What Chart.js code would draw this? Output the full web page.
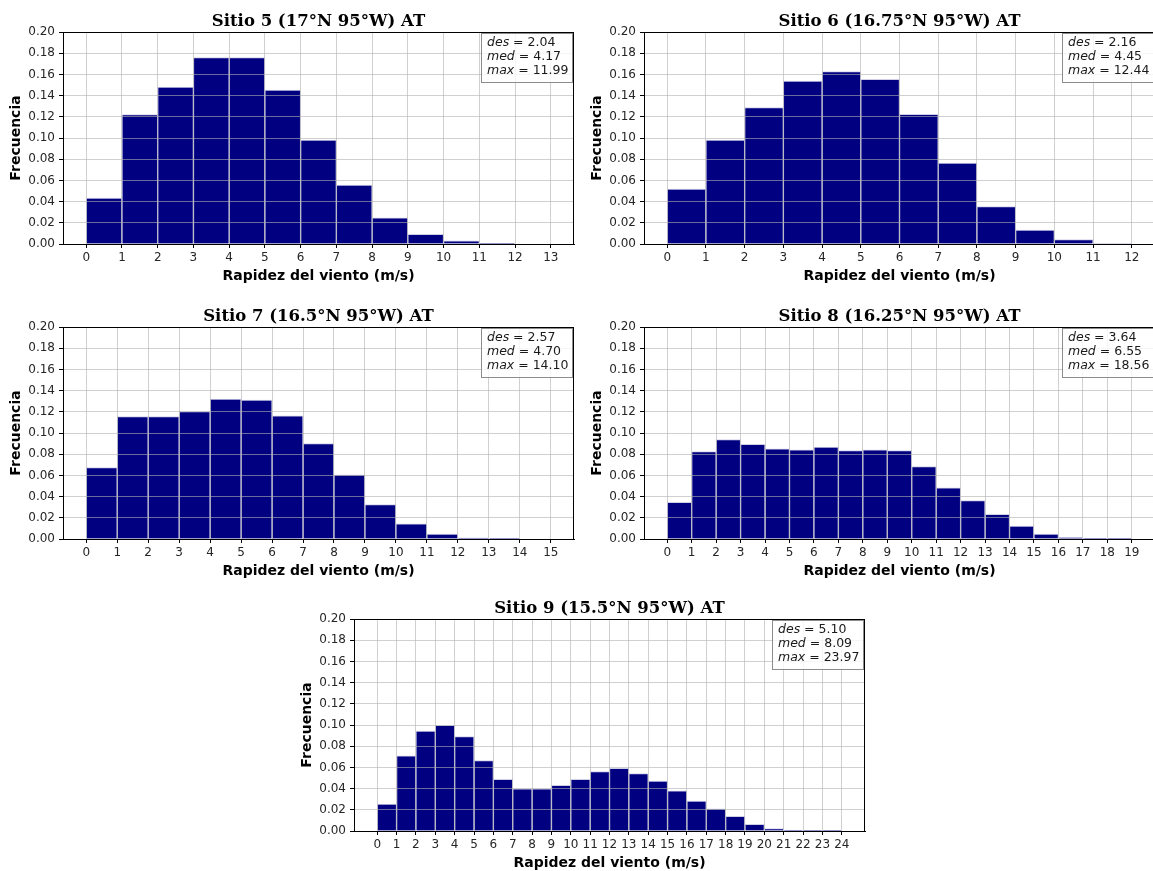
<!DOCTYPE html>
<html lang="es">
<head>
<meta charset="utf-8">
<title>Rapidez del viento - Sitios 5 a 9</title>
<script src="https://cdn.jsdelivr.net/npm/chart.js@4"></script>
<style>
  html, body { margin: 0; padding: 0; width: 1153px; height: 871px; overflow: hidden; background: #ffffff; }
  canvas { position: absolute; }
</style>
</head>
<body>
<canvas id="sitio5" width="600" height="290" style="left:-1px; top:0px;"></canvas>
<canvas id="sitio6" width="600" height="290" style="left:580px; top:0px;"></canvas>
<canvas id="sitio7" width="600" height="290" style="left:-1px; top:295px;"></canvas>
<canvas id="sitio8" width="600" height="290" style="left:580px; top:295px;"></canvas>
<canvas id="sitio9" width="600" height="290" style="left:290px; top:587px;"></canvas>
<script>
// Frecuencia relativa por intervalo de 1 m/s (el intervalo i va de i a i+1 m/s)
const freqSitio5 = [0.0434, 0.1220, 0.1480, 0.1758, 0.1758, 0.1453, 0.0981, 0.0557, 0.0248, 0.0091, 0.0031, 0.0002];
const freqSitio6 = [0.0519, 0.0981, 0.1286, 0.1538, 0.1626, 0.1553, 0.1223, 0.0764, 0.0352, 0.0132, 0.0041, 0.0005];
const freqSitio7 = [0.0674, 0.1156, 0.1156, 0.1203, 0.1320, 0.1310, 0.1162, 0.0901, 0.0605, 0.0324, 0.0142, 0.0047, 0.0010, 0.0002];
const freqSitio8 = [0.0346, 0.0825, 0.0939, 0.0894, 0.0850, 0.0841, 0.0866, 0.0835, 0.0841, 0.0835, 0.0683, 0.0482, 0.0362, 0.0233, 0.0123, 0.0047, 0.0013, 0.0003, 0.0001];
const freqSitio9 = [0.0255, 0.0709, 0.0942, 0.0998, 0.0891, 0.0665, 0.0488, 0.0397, 0.0397, 0.0431, 0.0488, 0.0561, 0.0592, 0.0542, 0.0472, 0.0378, 0.0283, 0.0208, 0.0139, 0.0063, 0.0022, 0.0009, 0.0003, 0.0001];

// Marcas de los ejes
const yTicks = [0.00, 0.02, 0.04, 0.06, 0.08, 0.10, 0.12, 0.14, 0.16, 0.18, 0.20];
const xTicksSitio5 = [0, 1, 2, 3, 4, 5, 6, 7, 8, 9, 10, 11, 12, 13];
const xTicksSitio6 = [0, 1, 2, 3, 4, 5, 6, 7, 8, 9, 10, 11, 12];
const xTicksSitio7 = [0, 1, 2, 3, 4, 5, 6, 7, 8, 9, 10, 11, 12, 13, 14, 15];
const xTicksSitio8 = [0, 1, 2, 3, 4, 5, 6, 7, 8, 9, 10, 11, 12, 13, 14, 15, 16, 17, 18, 19];
const xTicksSitio9 = [0, 1, 2, 3, 4, 5, 6, 7, 8, 9, 10, 11, 12, 13, 14, 15, 16, 17, 18, 19, 20, 21, 22, 23, 24];

// Estadísticos: desviación estándar, media y máximo (m/s)
const statNames = ['des', 'med', 'max'];
const statsSitio5 = ['2.04', '4.17', '11.99'];
const statsSitio6 = ['2.16', '4.45', '12.44'];
const statsSitio7 = ['2.57', '4.70', '14.10'];
const statsSitio8 = ['3.64', '6.55', '18.56'];
const statsSitio9 = ['5.10', '8.09', '23.97'];

const titles = [
  'Sitio 5 (17°N 95°W) AT',
  'Sitio 6 (16.75°N 95°W) AT',
  'Sitio 7 (16.5°N 95°W) AT',
  'Sitio 8 (16.25°N 95°W) AT',
  'Sitio 9 (15.5°N 95°W) AT'
];

const xLabel = 'Rapidez del viento (m/s)';
const yLabel = 'Frecuencia';

// Marco completo, título de cada panel y recuadro de estadísticos
const panelDecor = {
  id: 'panelDecor',
  afterDraw(chart, args, opts) {
    const ctx = chart.ctx;
    const a = chart.chartArea;
    ctx.save();
    // ejes superior y derecho
    ctx.strokeStyle = '#000000';
    ctx.lineWidth = 1;
    ctx.beginPath();
    ctx.moveTo(Math.round(a.left), Math.round(a.top) + 0.5);
    ctx.lineTo(Math.round(a.right), Math.round(a.top) + 0.5);
    ctx.moveTo(Math.round(a.right) - 0.5, Math.round(a.top));
    ctx.lineTo(Math.round(a.right) - 0.5, Math.round(a.bottom));
    ctx.stroke();

    // título
    ctx.fillStyle = '#000000';
    ctx.font = 'bold 16.5px "DejaVu Serif"';
    ctx.textAlign = 'center';
    ctx.textBaseline = 'alphabetic';
    ctx.fillText(opts.title, (a.left + a.right) / 2, 25.5);

    // recuadro de estadísticos
    const bw = 91, bh = 49;
    const bx = Math.round(a.right) - 2 - bw;
    const by = Math.round(a.top) + 1;
    ctx.fillStyle = 'rgba(255,255,255,0.8)';
    ctx.fillRect(bx, by, bw, bh);
    ctx.strokeStyle = '#8c8c8c';
    ctx.strokeRect(bx + 0.5, by + 0.5, bw, bh);
    ctx.textAlign = 'left';
    ctx.textBaseline = 'middle';
    ctx.fillStyle = '#1a1a1a';
    opts.names.forEach((name, i) => {
      const y = a.top + 10.5 + 14.2 * i;
      let x = bx + 6;
      ctx.font = 'italic 12.5px "DejaVu Sans"';
      ctx.fillText(name, x, y);
      x += ctx.measureText(name).width;
      ctx.font = '12.5px "DejaVu Sans"';
      ctx.fillText(' = ' + opts.values[i], x, y);
    });
    ctx.restore();
  }
};

const gridColor = 'rgba(176,176,176,0.6)';

function drawPanel(id, title, freq, xTicks, stats) {
  const last = xTicks[xTicks.length - 1];
  const margin = 0.05 * last;
  const points = freq.map((f, i) => ({ x: i + 0.5, y: f }));

  new Chart(document.getElementById(id), {
    type: 'bar',
    data: {
      datasets: [{
        data: points,
        backgroundColor: '#000080',
        borderColor: 'rgba(175,175,215,0.6)',
        borderWidth: 1,
        borderSkipped: 'bottom',
        barPercentage: 1,
        categoryPercentage: 1
      }]
    },
    options: {
      responsive: false,
      animation: false,
      devicePixelRatio: 1,
      layout: { padding: { top: 32, right: 25, bottom: 0, left: 0 } },
      plugins: {
        legend: { display: false },
        tooltip: { enabled: false },
        panelDecor: { title: title, names: statNames, values: stats }
      },
      scales: {
        x: {
          type: 'linear',
          min: -margin,
          max: last + margin,
          offset: false,
          afterBuildTicks: s => { s.ticks = xTicks.map(v => ({ value: v })); },
          afterFit: s => { s.height = 46; },
          ticks: {
            autoSkip: false,
            maxRotation: 0,
            padding: 3,
            color: '#262626',
            font: { family: 'DejaVu Sans', size: 12 },
            callback: v => String(v)
          },
          grid: { color: gridColor, lineWidth: 1, tickColor: '#000000', tickLength: 4, offset: false, z: 1 },
          border: { color: '#000000', width: 1, z: 2 },
          title: {
            display: true,
            text: xLabel,
            color: '#000000',
            font: { family: 'DejaVu Sans', size: 14, weight: 'bold' },
            padding: { top: 0, bottom: 5.6 }
          }
        },
        y: {
          type: 'linear',
          min: 0,
          max: 0.2,
          afterBuildTicks: s => { s.ticks = yTicks.map(v => ({ value: v })); },
          afterFit: s => { s.width = 64; },
          ticks: {
            padding: 4,
            color: '#262626',
            font: { family: 'DejaVu Sans', size: 12 },
            callback: v => Number(v).toFixed(2)
          },
          grid: { color: gridColor, lineWidth: 1, tickColor: '#000000', tickLength: 4, z: 1 },
          border: { color: '#000000', width: 1, z: 2 },
          title: {
            display: true,
            text: yLabel,
            color: '#000000',
            font: { family: 'DejaVu Sans', size: 14, weight: 'bold' },
            padding: { top: 9.3, bottom: 0 }
          }
        }
      }
    },
    plugins: [panelDecor]
  });
}

drawPanel('sitio5', titles[0], freqSitio5, xTicksSitio5, statsSitio5);
drawPanel('sitio6', titles[1], freqSitio6, xTicksSitio6, statsSitio6);
drawPanel('sitio7', titles[2], freqSitio7, xTicksSitio7, statsSitio7);
drawPanel('sitio8', titles[3], freqSitio8, xTicksSitio8, statsSitio8);
drawPanel('sitio9', titles[4], freqSitio9, xTicksSitio9, statsSitio9);
</script>
</body>
</html>
